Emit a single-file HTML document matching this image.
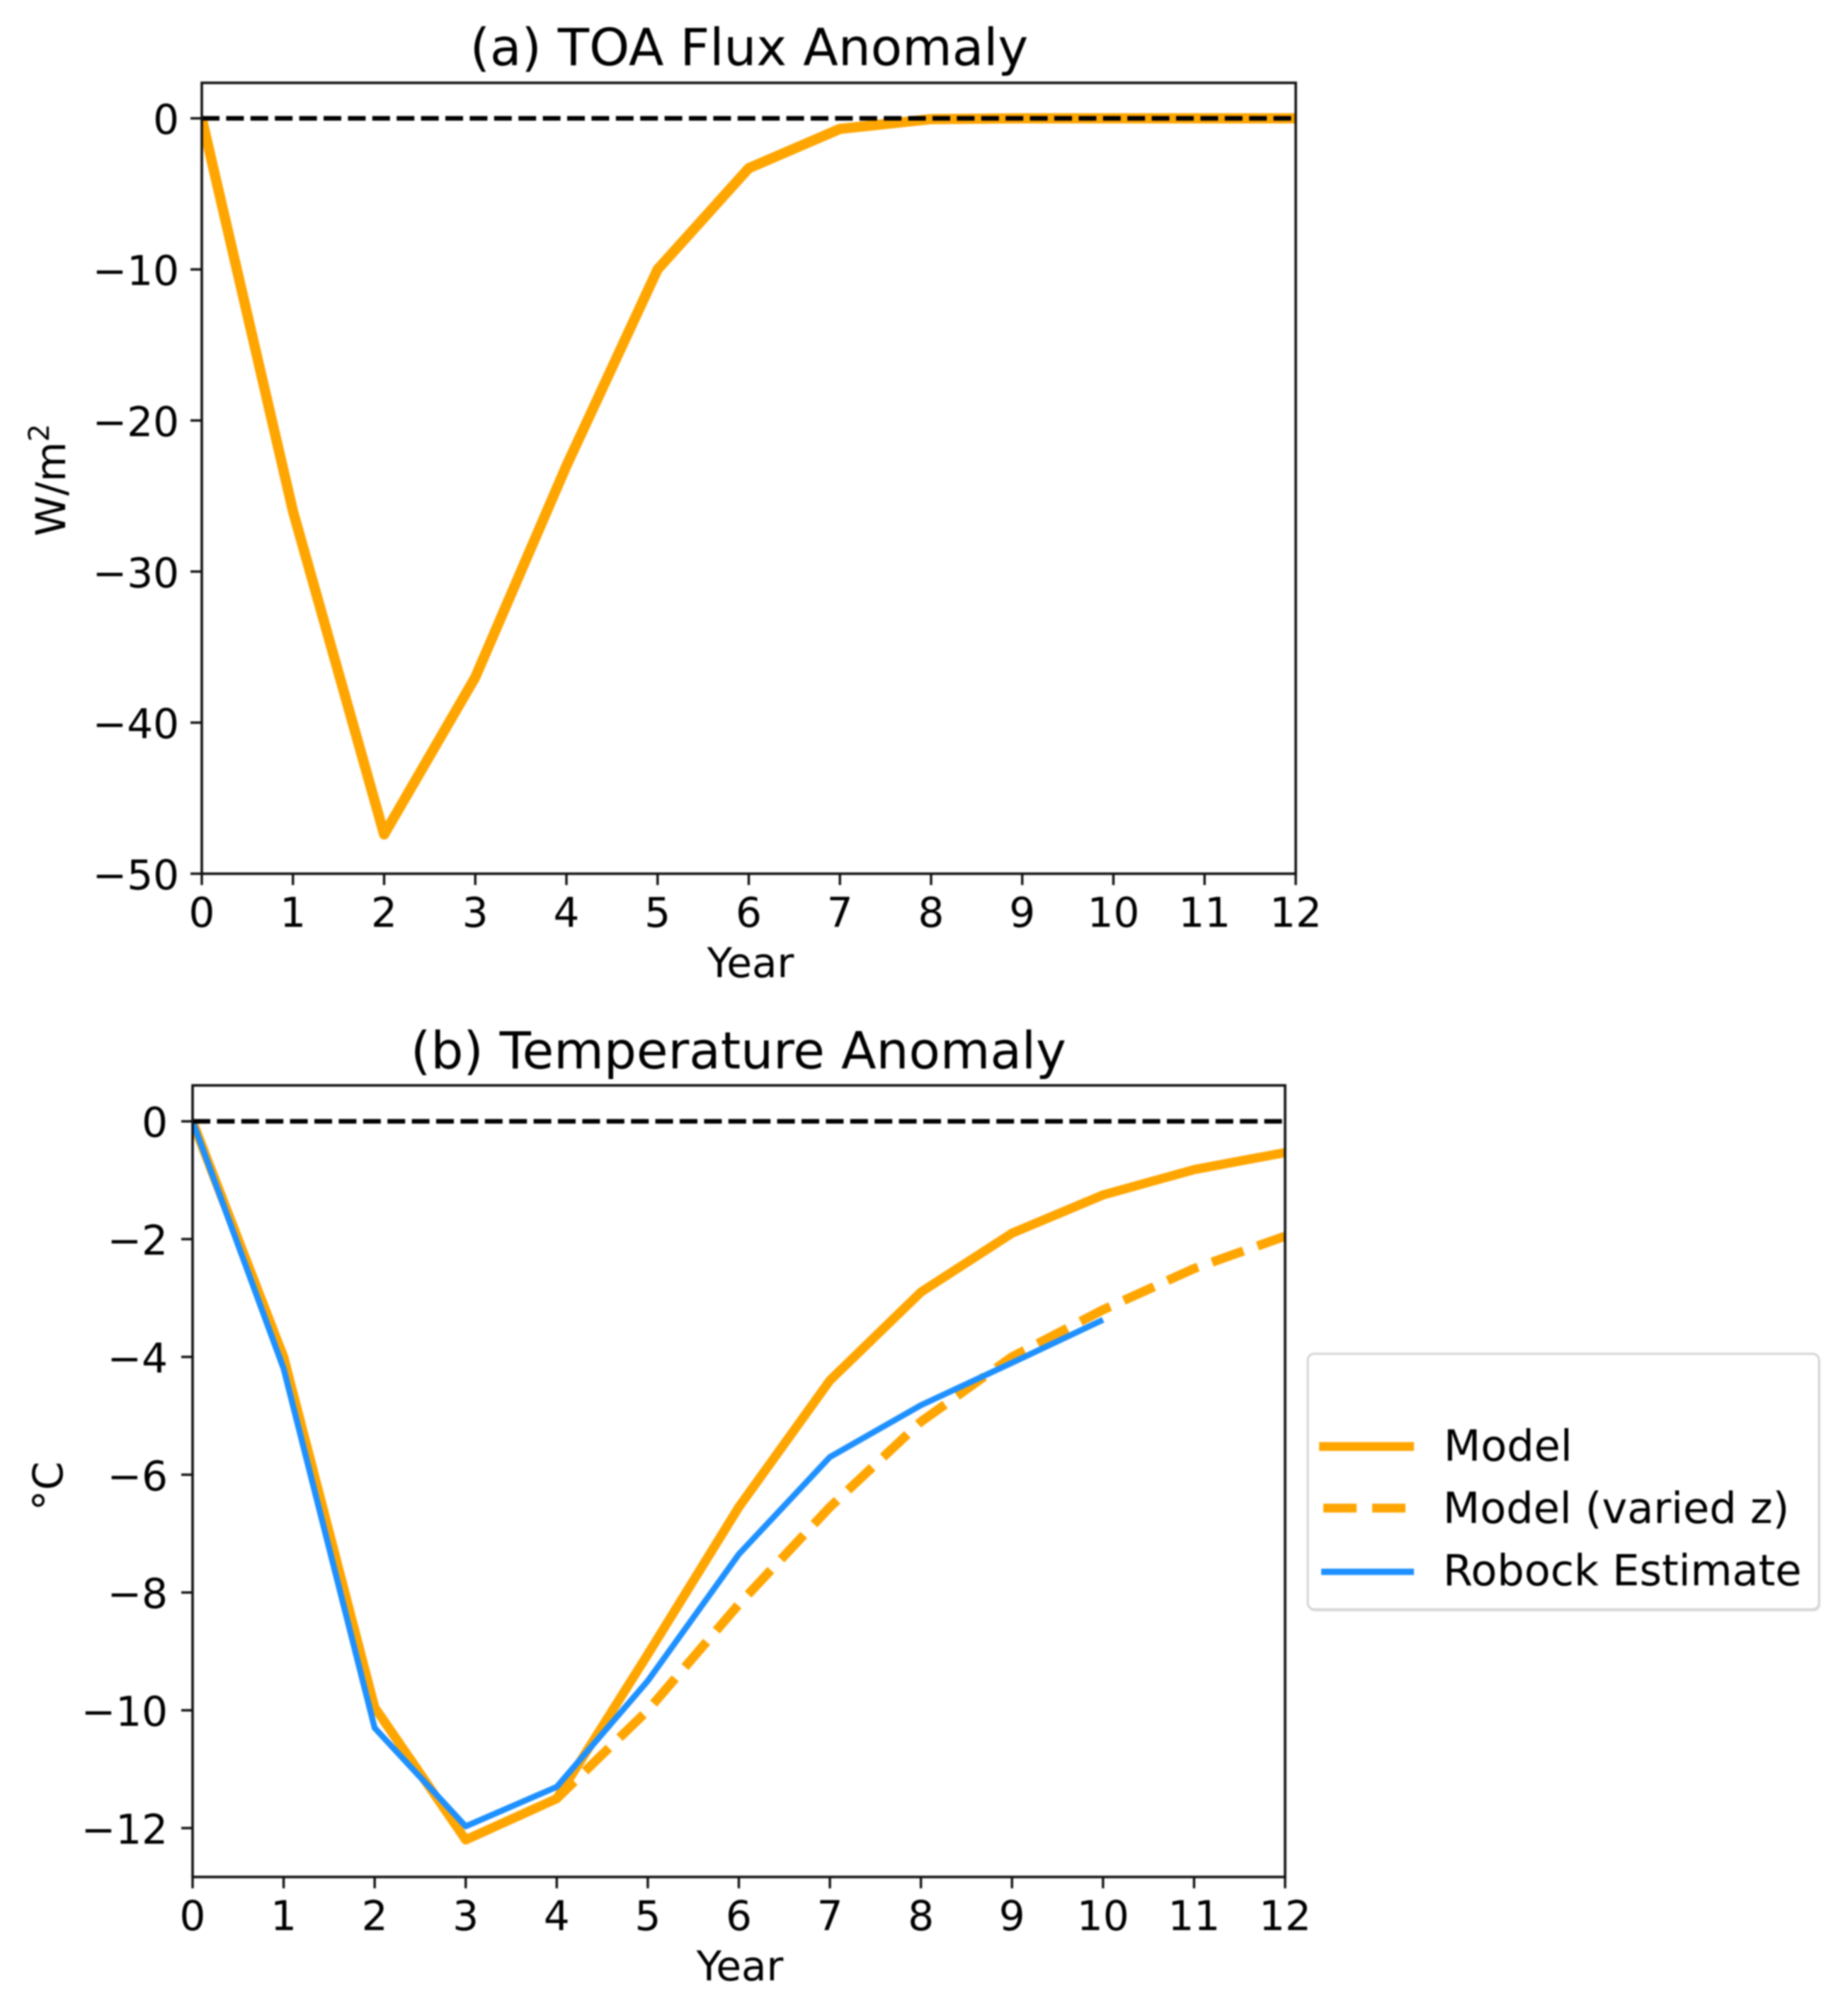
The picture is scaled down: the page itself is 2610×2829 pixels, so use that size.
<!DOCTYPE html>
<html lang="en">
<head>
<meta charset="utf-8">
<title>TOA Flux and Temperature Anomaly</title>
<style>
html,body{margin:0;padding:0;background:#fff;width:2610px;height:2829px;overflow:hidden}
svg{display:block;filter:blur(1px)}
text{font-family:"DejaVu Sans","Liberation Sans",sans-serif;fill:#000}
</style>
</head>
<body>
<svg id="figure" xmlns="http://www.w3.org/2000/svg" width="2610" height="2829" viewBox="0 0 2610 2829">
  <rect x="0" y="0" width="2610" height="2829" fill="#fff"/>
  <g id="panel-a"></g>
  <g id="panel-b"></g>

  <text x="1058" y="92" font-size="72.5" text-anchor="middle">(a) TOA Flux Anomaly</text>
  <text x="1060" y="1380" font-size="58" text-anchor="middle">Year</text>
  <text transform="translate(92,678) rotate(-90)" font-size="58" text-anchor="middle">W/m<tspan font-size="40" dy="-23">2</tspan></text>

  <text x="1043" y="1509" font-size="72.5" text-anchor="middle">(b) Temperature Anomaly</text>
  <text x="1045" y="2797" font-size="58" text-anchor="middle">Year</text>
  <text transform="translate(88,2099) rotate(-90)" font-size="58" text-anchor="middle">°C</text>

  <g>
    <rect x="1848" y="1914" width="723" height="362" rx="9" fill="#e2e2e2"/>
    <rect x="1847" y="1912" width="722" height="361" rx="9" fill="#fff" stroke="#d4d4d4" stroke-width="3"/>
    <g>
      <line x1="1863" y1="2043" x2="1997" y2="2043" stroke="#ffa500" stroke-width="12.5"/>
      <text x="2039" y="2063" font-size="60.5">Model</text>
    </g>
    <g>
      <line x1="1869" y1="2130" x2="1987" y2="2130" stroke="#ffa500" stroke-width="12.5" stroke-dasharray="47 22"/>
      <text x="2038" y="2151" font-size="60.5">Model (varied z)</text>
    </g>
    <g>
      <line x1="1866" y1="2220" x2="1997" y2="2220" stroke="#1e90ff" stroke-width="9"/>
      <text x="2038" y="2239" font-size="60.5">Robock Estimate</text>
    </g>
  </g>
</svg>
<script>
// Shared axis values
const years = [0,1,2,3,4,5,6,7,8,9,10,11,12];
const xTicks = [0,1,2,3,4,5,6,7,8,9,10,11,12];

// Panel (a) values
const yTicksA = [0,-10,-20,-30,-40,-50];
const fluxModel = [0,-26,-47.4,-37,-23,-10,-3.3,-0.7,-0.05,0,0,0,0];

// Panel (b) values
const yTicksB = [0,-2,-4,-6,-8,-10,-12];
const tempModel = [0,-4.0,-9.95,-12.2,-11.5,-9.05,-6.55,-4.4,-2.9,-1.9,-1.25,-0.82,-0.53];
const tempVariedZ = [0,-4.0,-9.95,-12.2,-11.5,-10.0,-8.2,-6.55,-5.1,-4.0,-3.2,-2.5,-1.95];
const tempRobock = [0,-4.2,-10.3,-11.97,-11.3,-9.5,-7.35,-5.7,-4.82,-4.1,-3.37];

const NS = 'http://www.w3.org/2000/svg';

function make(tag, attrs, parent) {
  const node = document.createElementNS(NS, tag);
  for (const k in attrs) node.setAttribute(k, attrs[k]);
  parent.appendChild(node);
  return node;
}

function linePath(xs, ys, sx, sy) {
  return ys.map((v, i) => (i ? 'L' : 'M') + sx(xs[i]).toFixed(2) + ' ' + sy(v).toFixed(2)).join(' ');
}

function drawAxes(group, cfg) {
  const sx = v => cfg.left + (v - cfg.xMin) / (cfg.xMax - cfg.xMin) * (cfg.right - cfg.left);
  const sy = v => cfg.top + (cfg.yMax - v) / (cfg.yMax - cfg.yMin) * (cfg.bottom - cfg.top);

  const defs = make('defs', {}, group);
  const clip = make('clipPath', {id: cfg.id + '-clip'}, defs);
  make('rect', {x: cfg.left, y: cfg.top, width: cfg.right - cfg.left, height: cfg.bottom - cfg.top}, clip);
  const plot = make('g', {'clip-path': 'url(#' + cfg.id + '-clip)'}, group);
  
  

  cfg.series.forEach(s => {
    const path = make('path', {
      d: linePath(years, s.values, sx, sy),
      fill: 'none',
      stroke: s.color,
      'stroke-width': s.width,
      'stroke-linejoin': 'round',
      'stroke-linecap': 'butt'
    }, plot);
    if (s.dash) path.setAttribute('stroke-dasharray', s.dash);
    
    
  });

  const zero = make('line', {
    x1: sx(cfg.xMin), y1: sy(0), x2: sx(cfg.xMax), y2: sy(0),
    stroke: '#000', 'stroke-width': 6.5, 'stroke-dasharray': '25 9.4'
  }, plot);
  
  

  const frame = make('rect', {
    x: cfg.left, y: cfg.top, width: cfg.right - cfg.left, height: cfg.bottom - cfg.top,
    fill: 'none', stroke: '#111', 'stroke-width': 3.6
  }, group);
  
  

  xTicks.forEach(t => {
    const tick = make('line', {
      x1: sx(t), y1: cfg.bottom, x2: sx(t), y2: cfg.bottom + 16,
      stroke: '#111', 'stroke-width': 3.4
    }, group);
    
    
    const label = make('text', {
      x: sx(t), y: cfg.bottom + 75, 'font-size': 58, 'text-anchor': 'middle'
    }, group);
    label.textContent = String(t);
    
    
  });

  cfg.yTicks.forEach(t => {
    const tick = make('line', {
      x1: cfg.left - 16, y1: sy(t), x2: cfg.left, y2: sy(t),
      stroke: '#111', 'stroke-width': 3.4
    }, group);
    
    
    const label = make('text', {
      x: cfg.left - cfg.labelGap, y: sy(t) + 22, 'font-size': 58, 'text-anchor': 'end'
    }, group);
    label.textContent = String(t).replace('-', '\u2212');
    
    
  });
}

drawAxes(document.getElementById('panel-a'), {
  id: 'panel-a',
  left: 285, right: 1830, top: 117, bottom: 1234,
  xMin: 0, xMax: 12, yMin: -50, yMax: 2.35,
  labelGap: 32,
  yTicks: yTicksA,
  series: [
    {name: 'flux-model-line', values: fluxModel, color: '#ffa500', width: 14.5}
  ]
});

drawAxes(document.getElementById('panel-b'), {
  id: 'panel-b',
  left: 272, right: 1815, top: 1533, bottom: 2651,
  xMin: 0, xMax: 12, yMin: -12.83, yMax: 0.61,
  labelGap: 35,
  yTicks: yTicksB,
  series: [
    {name: 'temperature-model-line', values: tempModel, color: '#ffa500', width: 13},
    {name: 'temperature-model-varied-z-line', values: tempVariedZ, color: '#ffa500', width: 13, dash: '47 21'},
    {name: 'temperature-robock-estimate-line', values: tempRobock, color: '#1e90ff', width: 8.5}
  ]
});
</script>
</body>
</html>
